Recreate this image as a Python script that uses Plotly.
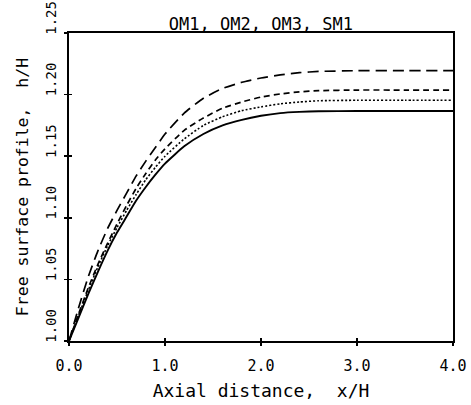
import plotly.graph_objects as go

x_vals = [0.0, 0.1, 0.2, 0.3, 0.4, 0.5, 0.6, 0.7, 0.8, 0.9, 1.0, 1.2, 1.4, 1.6, 1.8, 2.0, 2.2, 2.4, 2.6, 3.0, 3.5, 4.0]

h_solid = [1.000, 1.019, 1.038, 1.056, 1.073, 1.088, 1.101, 1.114, 1.125, 1.135, 1.144, 1.158, 1.168, 1.175, 1.1795, 1.1828, 1.185, 1.186, 1.1865, 1.1867, 1.1867, 1.1867]
h_dotted = [1.000, 1.021, 1.041, 1.060, 1.077, 1.092, 1.106, 1.119, 1.131, 1.141, 1.150, 1.164, 1.175, 1.182, 1.187, 1.190, 1.1925, 1.194, 1.195, 1.1954, 1.1954, 1.1954]
h_dashed = [1.000, 1.022, 1.043, 1.062, 1.079, 1.095, 1.110, 1.124, 1.136, 1.147, 1.156, 1.171, 1.181, 1.189, 1.194, 1.198, 1.2005, 1.2022, 1.2032, 1.2037, 1.2037, 1.2037]
h_longdash = [1.000, 1.027, 1.052, 1.073, 1.091, 1.106, 1.120, 1.134, 1.146, 1.157, 1.168, 1.185, 1.197, 1.205, 1.210, 1.2135, 1.216, 1.2178, 1.2188, 1.2194, 1.2194, 1.2194]

x_tickvals = [0.0, 1.0, 2.0, 3.0, 4.0]
x_ticktext = ["0.0", "1.0", "2.0", "3.0", "4.0"]
y_tickvals = [1.00, 1.05, 1.10, 1.15, 1.20, 1.25]
y_ticktext = ["1.00", "1.05", "1.10", "1.15", "1.20", "1.25"]

title_text = "OM1, OM2, OM3, SM1"
x_title = "Axial distance,  x/H"
y_title = "Free surface profile,  h/H"

FONT = "DejaVu Sans Mono"

fig = go.Figure()
styles = [
    (h_solid, "solid", 1.9),
    (h_dotted, "2px,2px", 1.6),
    (h_dashed, "6px,4px", 1.7),
    (h_longdash, "11px,6px", 1.7),
]
for ys, dash, w in styles:
    fig.add_trace(go.Scatter(x=x_vals, y=ys, mode="lines", line=dict(color="black", width=w, dash=dash, shape="spline", smoothing=0.5), showlegend=False, hoverinfo="skip"))

# overlay axes to give ticks on both sides (crossing ticks)
fig.add_trace(go.Scatter(x=[0], y=[1], xaxis="x2", yaxis="y2", mode="markers", marker=dict(opacity=0), showlegend=False, hoverinfo="skip"))

fig.update_layout(
    width=471, height=405,
    margin=dict(l=69, r=18, t=33, b=64, autoexpand=False),
    paper_bgcolor="white", plot_bgcolor="white",
    font=dict(family=FONT, color="black", size=15),
    title=dict(text=title_text, x=0.554, xanchor="center", y=0.94, yanchor="middle", font=dict(family=FONT, size=17), automargin=False),
    xaxis=dict(range=[0, 4], tickvals=x_tickvals, ticktext=x_ticktext, showgrid=False, zeroline=False,
               showline=True, linecolor="black", linewidth=1.8, mirror=True, automargin=False,
               ticks="outside", ticklen=3, tickwidth=1.5, tickcolor="black", tickfont=dict(size=15),
               ticklabelstandoff=7,
               title=dict(text=x_title, standoff=11, font=dict(size=18))),
    yaxis=dict(range=[1.0, 1.25], tickvals=y_tickvals, ticktext=y_ticktext, showgrid=False, zeroline=False,
               showline=True, linecolor="black", linewidth=1.8, mirror=True, tickangle=-90, automargin=False,
               ticks="outside", ticklen=3, tickwidth=1.5, tickcolor="black", tickfont=dict(size=14),
               ticklabelshift=-13, ticklabelstandoff=3,
               title=dict(text=y_title, standoff=10, font=dict(size=16.5))),
    xaxis2=dict(range=[0, 4], tickvals=x_tickvals[1:-1], overlaying="x", side="bottom", anchor="y2",
                ticks="inside", ticklen=3, tickwidth=1.5, tickcolor="black", showticklabels=False,
                showgrid=False, zeroline=False, showline=False, automargin=False),
    yaxis2=dict(range=[1.0, 1.25], tickvals=y_tickvals[1:-1], overlaying="y", side="left", anchor="x2",
                ticks="inside", ticklen=3, tickwidth=1.5, tickcolor="black", showticklabels=False,
                showgrid=False, zeroline=False, showline=False, automargin=False),
)

fig.write_html("out.html", config={"displayModeBar": False, "staticPlot": True},
               post_script="document.body.style.margin='0';document.body.style.overflow='hidden';")
